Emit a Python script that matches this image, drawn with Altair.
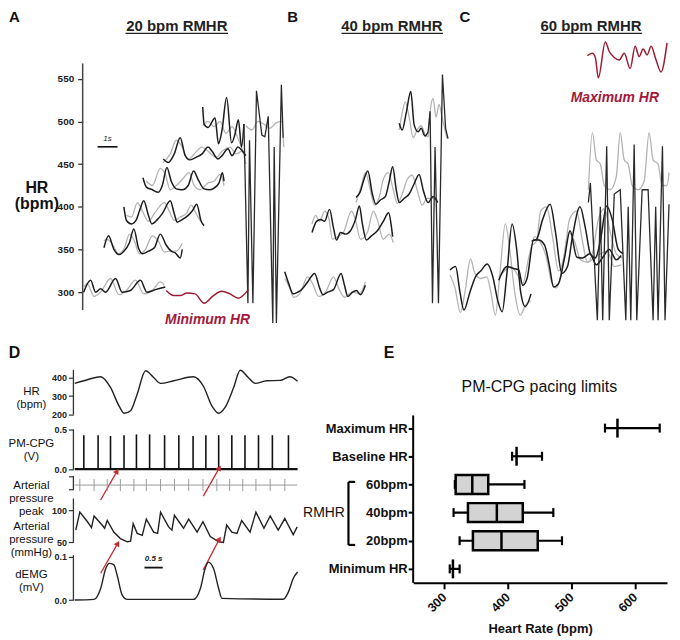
import altair as alt
import pandas as pd

FONT = "Liberation Sans"
INK = "#1c1c1c"
GREY = "#b3b3b3"
WINE = "#9d1b33"
ARROW_RED = "#c62a2f"
AXC = "#333333"

# ================= Panels A-C : HR traces (time in s, HR in bpm) =================
a1k_t = [0.05, 0.4, 0.65, 0.9, 1.15, 1.65, 1.98, 2.4, 2.9, 3.23, 3.65, 4.15]
a1k_v = [300, 314, 300, 304, 300, 316, 300, 302, 314, 300, 303, 306]
a1g_t = [0.05, 0.23, 0.57, 0.9, 1.4, 1.82, 2.2, 2.65, 3.07, 3.5, 3.9, 4.1]
a1g_v = [306, 310, 295, 300, 316, 297, 302, 314, 298, 302, 312, 308]

min_t = [4.2, 4.57, 4.9, 5.23, 5.65, 6.1, 6.57, 6.98, 7.4, 7.82, 8.32]
min_v = [302, 296, 296, 299, 298, 287, 296, 301, 298, 293, 303]

a2k_t = [1.07, 1.3, 1.57, 1.82, 2.07, 2.35, 2.57, 2.8, 3.0, 3.3, 3.6, 3.9, 4.2, 4.45, 4.65, 4.9, 5.0]
a2k_v = [352, 366, 350, 344, 348, 358, 374, 352, 345, 348, 352, 368, 355, 348, 346, 340, 350]
a2g_t = [1.07, 1.2, 1.5, 1.8, 2.1, 2.35, 2.6, 2.85, 3.15, 3.5, 3.8, 4.1, 4.4, 4.7, 5.0]
a2g_v = [360, 362, 356, 345, 352, 368, 360, 345, 350, 366, 360, 347, 348, 348, 357]

a3k_t = [2.07, 2.2, 2.45, 2.7, 2.85, 3.07, 3.3, 3.48, 3.75, 4.0, 4.4, 4.6, 4.75, 5.0, 5.3, 5.5, 5.73, 5.95, 6.1]
a3k_v = [400, 384, 380, 385, 395, 407, 390, 380, 385, 392, 407, 392, 382, 385, 390, 395, 403, 383, 378]
a3g_t = [2.2, 2.45, 2.75, 3.0, 3.3, 3.6, 4.1, 4.35, 4.6, 4.9, 5.2, 5.45, 5.7, 5.9]
a3g_v = [390, 388, 405, 395, 383, 392, 405, 395, 384, 388, 392, 402, 392, 384]

a4k_t = [3.03, 3.2, 3.5, 3.8, 4.0, 4.23, 4.45, 4.7, 5.0, 5.3, 5.57, 5.8, 6.1, 6.35, 6.6, 6.85, 7.02, 7.1]
a4k_v = [434, 423, 420, 417, 425, 446, 430, 421, 420, 425, 442, 432, 421, 420, 422, 428, 440, 430]
a4g_t = [3.2, 3.5, 3.9, 4.15, 4.4, 4.7, 5.0, 5.35, 5.6, 5.9, 6.3, 6.6, 6.9, 7.1]
a4g_v = [430, 425, 445, 438, 420, 425, 432, 440, 425, 420, 428, 430, 438, 425]

a5k_t = [4.05, 4.3, 4.6, 4.9, 5.15, 5.4, 5.7, 6.0, 6.3, 6.5, 6.8, 7.0, 7.3, 7.5, 7.8, 8.0, 8.2]
a5k_v = [456, 452, 462, 481, 460, 455, 458, 462, 470, 465, 456, 460, 468, 460, 470, 466, 460]
a5g_t = [4.05, 4.4, 4.7, 5.0, 5.3, 5.6, 6.0, 6.3, 6.7, 7.0, 7.4, 7.7, 8.0, 8.2]
a5g_v = [452, 462, 478, 470, 455, 462, 470, 465, 458, 465, 470, 462, 465, 450]

a6k_t = [6.03, 6.1, 6.3, 6.65, 6.82, 7.0, 7.23, 7.48, 7.65, 7.82, 7.98, 8.1]
a6k_v = [517, 497, 493, 504, 474, 490, 528, 475, 485, 502, 470, 497]
a6g_t = [6.03, 6.3, 6.6, 6.9, 7.2, 7.5, 7.8, 8.1]
a6g_v = [495, 500, 494, 500, 486, 494, 480, 462]

spkA_t = [8.1, 8.3, 8.38, 8.55, 8.73, 9.0, 9.15, 9.32, 9.55, 9.62, 9.73, 9.98, 10.07]
spkA_v = [497, 287, 478, 287, 536, 484, 482, 506, 264, 470, 264, 543, 481]
spkAg_t = [8.2, 8.5, 8.8, 9.1, 9.4, 9.7, 10.0, 10.1]
spkAg_v = [495, 490, 500, 497, 492, 498, 500, 470]

b1k_t = [10.15, 10.35, 10.57, 10.8, 10.95, 11.3, 11.65, 11.9, 12.07, 12.3, 12.6, 12.98, 13.15, 13.32, 13.55, 13.75, 13.95, 14.2]
b1k_v = [324, 310, 298, 300, 302, 312, 322, 305, 297, 300, 303, 322, 308, 295, 300, 302, 297, 308]
b1g_t = [10.15, 10.4, 10.6, 10.9, 11.3, 11.55, 11.85, 12.2, 12.6, 12.85, 13.15, 13.4, 13.6, 13.9, 14.2]
b1g_v = [316, 305, 294, 298, 318, 310, 295, 300, 318, 305, 294, 298, 300, 298, 312]

b2k_t = [11.52, 11.75, 11.95, 12.15, 12.4, 12.6, 12.75, 12.95, 13.2, 13.45, 13.7, 13.9, 14.05, 14.25, 14.5, 14.8, 15.1, 15.37, 15.5, 15.57]
b2k_v = [370, 383, 385, 383, 397, 375, 361, 370, 368, 372, 385, 401, 380, 361, 366, 372, 383, 393, 378, 365]
b2g_t = [11.52, 11.7, 11.9, 12.15, 12.35, 12.55, 12.8, 13.1, 13.5, 13.7, 13.95, 14.3, 14.6, 14.8, 15.1, 15.4, 15.6]
b2g_v = [380, 390, 383, 395, 388, 362, 365, 370, 395, 385, 362, 370, 395, 385, 362, 368, 358]

b3k_t = [13.73, 13.95, 14.1, 14.32, 14.55, 14.73, 14.95, 15.2, 15.4, 15.57, 15.75, 15.9, 16.15, 16.4, 16.65, 16.9, 17.1, 17.35, 17.6, 17.83]
b3k_v = [411, 418, 430, 442, 415, 403, 408, 412, 430, 447, 420, 405, 410, 415, 427, 438, 420, 405, 412, 405]
b3g_t = [13.73, 14.0, 14.2, 14.45, 14.65, 14.9, 15.1, 15.35, 15.6, 15.8, 16.05, 16.3, 16.55, 16.8, 17.05, 17.3, 17.6, 17.83]
b3g_v = [405, 425, 440, 420, 402, 412, 432, 440, 420, 404, 415, 432, 437, 420, 402, 410, 410, 408]

b4k_t = [15.9, 16.05, 16.25, 16.48, 16.65, 16.85, 17.0, 17.2, 17.35]
b4k_v = [498, 490, 510, 535, 496, 488, 492, 483, 488]
b4g_t = [15.9, 16.05, 16.2, 16.4, 16.6, 16.8, 17.0, 17.2, 17.35]
b4g_v = [490, 510, 523, 505, 481, 490, 495, 485, 482]

spkB_t = [17.35, 17.45, 17.57, 17.7, 17.87, 18.07, 18.23, 18.35]
spkB_v = [488, 512, 287, 470, 287, 555, 492, 480]
spkBg_t = [17.35, 17.5, 17.6, 17.75, 17.9, 18.05, 18.3]
spkBg_v = [482, 520, 527, 505, 520, 505, 480]

c1k_t = [18.45, 18.73, 18.95, 19.15, 19.45, 19.73, 20.0, 20.32, 20.6, 20.85, 21.07, 21.3, 21.57, 21.8, 22.0, 22.23, 22.52]
c1k_v = [326, 330, 300, 279, 300, 318, 325, 333, 318, 290, 277, 320, 380, 350, 300, 283, 298]
c1g_t = [18.45, 18.7, 18.97, 19.2, 19.48, 19.7, 20.0, 20.3, 20.5, 20.73, 20.95, 21.23, 21.45, 21.7, 21.98, 22.25, 22.5]
c1g_v = [320, 305, 276, 300, 339, 322, 316, 318, 300, 273, 320, 380, 350, 300, 273, 285, 290]

c2k_t = [20.9, 21.32, 21.6, 21.9, 22.1, 22.32, 22.65, 22.9, 23.2, 23.45, 23.65, 23.9, 24.2, 24.48, 24.82, 25.1, 25.48, 25.8, 26.1, 26.45, 26.8, 27.05]
c2k_v = [314, 330, 328, 326, 308, 316, 361, 361, 355, 330, 306, 310, 340, 372, 341, 340, 345, 332, 340, 350, 338, 343]
c2g_t = [20.9, 21.2, 21.5, 21.85, 22.1, 22.4, 22.7, 23.0, 23.3, 23.55, 23.8, 24.1, 24.4, 24.7, 25.0, 25.35, 25.7, 26.0, 26.35, 26.7, 27.05]
c2g_v = [318, 325, 330, 320, 310, 340, 365, 358, 340, 312, 305, 330, 370, 360, 338, 335, 340, 345, 348, 330, 332]

c3k_t = [22.55, 22.8, 23.1, 23.48, 23.75, 24.07, 24.35, 24.6, 24.98, 25.25, 25.5, 25.75, 26.0, 26.32, 26.6, 26.9, 27.15]
c3k_v = [360, 362, 385, 403, 370, 322, 330, 365, 400, 375, 345, 340, 360, 401, 385, 350, 345]
c3g_t = [22.55, 22.8, 23.0, 23.3, 23.6, 23.9, 24.2, 24.45, 24.8, 25.1, 25.35, 25.6, 25.9, 26.2, 26.5, 26.8, 27.1]
c3g_v = [355, 360, 395, 400, 365, 325, 345, 385, 395, 360, 335, 345, 385, 398, 370, 345, 340]

c4k_t = [25.4, 25.5, 25.85, 26.0, 26.12, 26.32, 26.45, 26.7, 27.0, 27.28, 27.4, 27.53, 27.7, 27.83, 28.1, 28.4, 28.65, 28.78, 28.9, 29.12, 29.25, 29.45]
c4k_v = [405, 428, 267, 400, 267, 471, 267, 415, 420, 267, 400, 267, 473, 267, 420, 420, 267, 400, 267, 471, 267, 403]
c4g_t = [25.4, 25.6, 25.8, 26.0, 26.2, 26.5, 26.8, 27.0, 27.2, 27.4, 27.6, 27.9, 28.2, 28.45, 28.65, 28.9, 29.1, 29.35, 29.45]
c4g_v = [420, 487, 455, 450, 425, 420, 435, 487, 455, 450, 425, 420, 430, 487, 455, 450, 425, 425, 440]

max_t = [25.35, 25.6, 25.75, 25.9, 26.25, 26.45, 26.7, 26.95, 27.2, 27.5, 27.75, 27.95, 28.15, 28.35, 28.55, 28.8, 29.05, 29.35]
max_v = [577, 580, 575, 551, 593, 582, 575, 572, 580, 562, 588, 576, 585, 578, 588, 572, 558, 592]

top_ticks = [300, 350, 400, 450, 500, 550]
top_axis_extent = [279, 568]

panel_letters = ["A", "B", "C"]
panel_letter_t = [-3.425, 10.55, 19.2]
panel_letter_v = [622.6, 622.6, 622.6]

panel_titles = ["20 bpm RMHR", "40 bpm RMHR", "60 bpm RMHR"]
panel_title_t = [4.73, 15.53, 25.53]
panel_title_v = [612.1, 612.1, 612.1]
underline_t = [2.15, 13.0, 23.0]
underline_t2 = [7.3, 18.1, 28.1]
underline_v = [603.3, 603.3, 603.3]

red_labels = ["Minimum HR", "Maximum HR"]
red_label_t = [6.275, 26.73]
red_label_v = [267.3, 526.9]

scale_bar_t = [0.75]
scale_bar_t2 = [1.75]
scale_bar_v = [470.3]
scale_lbl = ["1s"]
scale_lbl_t = [1.25]
scale_lbl_v = [479.5]

hr_lbl = ["HR\n(bpm)"]
hr_lbl_t = [-2.3]
hr_lbl_v = [421.9]

# ================= Panel D =================
hrd_t = [0, 0.25, 0.71, 0.98, 1.21, 1.36, 1.53, 1.71, 1.94, 2.16, 2.35, 2.71, 3.25, 3.53, 3.75, 3.94, 4.12, 4.35, 4.53, 4.75, 4.94, 5.25, 5.62, 5.89, 6.1]
hrd_v = [368, 382, 404, 346, 248, 207, 221, 310, 436, 400, 368, 382, 404, 350, 248, 207, 240, 346, 439, 400, 368, 382, 384, 404, 379]

pm_spike_t = [0.25, 0.64, 0.98, 1.35, 1.69, 2.05, 2.46, 2.85, 3.24, 3.59, 3.94, 4.3, 4.66, 5.03, 5.41, 5.85]
pm_spike_v = [0.43, 0.43, 0.42, 0.43, 0.44, 0.44, 0.43, 0.43, 0.42, 0.43, 0.43, 0.43, 0.43, 0.43, 0.43, 0.43]
pm_base_v = 0.004

ap_peak_t = [0.14, 0.53, 0.89, 1.25, 1.62, 1.96, 2.35, 2.73, 3.12, 3.51, 3.89, 4.24, 4.6, 4.96, 5.35, 5.75]

ap_t = [0.03, 0.14, 0.35, 0.46, 0.53, 0.75, 0.82, 0.89, 1.07, 1.25, 1.44, 1.53, 1.6, 1.71, 1.85, 1.96, 2.16, 2.27, 2.35, 2.57,
        2.66, 2.73, 2.98, 3.12, 3.35, 3.51, 3.71, 3.94, 4.07, 4.16, 4.3, 4.44, 4.57, 4.8, 4.96, 5.18, 5.35, 5.57, 5.75, 5.98, 6.09]
ap_v = [69, 97, 82, 73, 91, 77, 72, 84, 66, 56, 51, 52, 79, 64, 61, 86, 66, 64, 97, 74,
        69, 92, 72, 86, 66, 82, 59, 51, 50, 77, 66, 64, 84, 66, 97, 72, 91, 69, 87, 62, 74]

demg_t = [0, 0.53, 0.71, 0.85, 0.94, 1.07, 1.16, 1.3, 1.44, 3.25, 3.44, 3.57, 3.66, 3.8, 3.94, 4.03, 5.71, 5.85, 5.98, 6.1]
demg_v = [0, 0.0015, 0.027, 0.073, 0.085, 0.082, 0.058, 0.0115, 0.0015, 0.0015, 0.027, 0.073, 0.088, 0.073, 0.027, 0.004, 0.002, 0.019, 0.05, 0.065]

arrow_pm_t = [0.71, 3.52]
arrow_pm_t2 = [1.16, 3.96]
arrow_pm_v = [-0.384, -0.334]
arrow_pm_v2 = [-0.021, 0.02]
arrow_ap_t = [0.71, 3.52]
arrow_ap_t2 = [1.18, 3.96]
arrow_ap_v = [2.2, 7.4]
arrow_ap_v2 = [48.5, 55.2]

d_axis_t = -0.035      # time at which panel D's vertical axes stand
d_t_end = 6.1

# ================= Panel E =================
e_cats = ["Maximum HR", "Baseline HR", "60bpm", "40bpm", "20bpm", "Minimum HR"]
e_idx = [5, 4, 3, 2, 1, 0]
e_lo = [553, 407, 317, 315, 324.5, 309]
e_med = [572.6, 414, 344.4, 383, 390.3, 314]
e_hi = [639, 454, 426.4, 471.8, 485.4, 324.5]
box_idx = [3, 2, 1]
box_q1 = [318.3, 337.6, 345.4]
box_q3 = [369.5, 423.8, 447.3]
e_axis_extent = [-0.495, 5.45]

# ---------------------------------------------------------------------------
def trace_frame(rows):
    return pd.concat([pd.DataFrame({"t": t, "v": v, "trace": n}) for n, t, v in rows], ignore_index=True)

grey_df = trace_frame([("a1", a1g_t, a1g_v), ("a2", a2g_t, a2g_v), ("a3", a3g_t, a3g_v), ("a4", a4g_t, a4g_v),
                       ("a5", a5g_t, a5g_v), ("a6", a6g_t, a6g_v), ("sa", spkAg_t, spkAg_v),
                       ("b1", b1g_t, b1g_v), ("b2", b2g_t, b2g_v), ("b3", b3g_t, b3g_v), ("b4", b4g_t, b4g_v),
                       ("sb", spkBg_t, spkBg_v), ("c1", c1g_t, c1g_v), ("c2", c2g_t, c2g_v), ("c3", c3g_t, c3g_v),
                       ("c4", c4g_t, c4g_v)])
black_df = trace_frame([("a1", a1k_t, a1k_v), ("a2", a2k_t, a2k_v), ("a3", a3k_t, a3k_v), ("a4", a4k_t, a4k_v),
                        ("a5", a5k_t, a5k_v), ("a6", a6k_t, a6k_v), ("b1", b1k_t, b1k_v), ("b2", b2k_t, b2k_v),
                        ("b3", b3k_t, b3k_v), ("b4", b4k_t, b4k_v), ("c1", c1k_t, c1k_v), ("c2", c2k_t, c2k_v),
                        ("c3", c3k_t, c3k_v)])
spike_df = trace_frame([("sa", spkA_t, spkA_v), ("sb", spkB_t, spkB_v), ("c4", c4k_t, c4k_v)])
red_df = trace_frame([("min", min_t, min_v), ("max", max_t, max_v)])

TX = alt.X("t:Q", scale=alt.Scale(domain=[0, 29.5], nice=False, zero=False, padding=0), axis=None)
TY = alt.Y("v:Q", scale=alt.Scale(domain=[255.7, 631.3], nice=False, zero=False, padding=0),
           axis=alt.Axis(values=top_ticks, domain=False, grid=False, tickSize=5, tickColor=AXC, tickWidth=1.3,
                         labelFont=FONT, labelFontSize=10, labelFontWeight="bold", labelColor="#222",
                         labelPadding=4, title=None))

top_layers = [
    alt.Chart(pd.DataFrame({"t": [0], "v": [top_axis_extent[0]], "v2": [top_axis_extent[1]]}))
    .mark_rule(color="#444", strokeWidth=1.5).encode(x=TX, y=TY, y2="v2:Q"),
    alt.Chart(grey_df).mark_line(color=GREY, strokeWidth=1.3, interpolate="monotone").encode(x=TX, y=TY, detail="trace:N"),
    alt.Chart(black_df).mark_line(color=INK, strokeWidth=1.5, interpolate="monotone").encode(x=TX, y=TY, detail="trace:N"),
    alt.Chart(spike_df).mark_line(color="#2a2a2a", strokeWidth=1.3).encode(x=TX, y=TY, detail="trace:N"),
    alt.Chart(red_df).mark_line(color=WINE, strokeWidth=1.5, interpolate="monotone").encode(x=TX, y=TY, detail="trace:N"),
    alt.Chart(pd.DataFrame({"t": panel_letter_t, "v": panel_letter_v, "label": panel_letters}))
    .mark_text(font=FONT, fontSize=15, fontWeight="bold", color="#111", align="center", baseline="middle")
    .encode(x=TX, y=TY, text="label:N"),
    alt.Chart(pd.DataFrame({"t": panel_title_t, "v": panel_title_v, "label": panel_titles}))
    .mark_text(font=FONT, fontSize=15, fontWeight="bold", color="#222", align="center", baseline="middle")
    .encode(x=TX, y=TY, text="label:N"),
    alt.Chart(pd.DataFrame({"t": underline_t, "t2": underline_t2, "v": underline_v}))
    .mark_rule(color="#222", strokeWidth=1.3).encode(x=TX, x2="t2:Q", y=TY),
    alt.Chart(pd.DataFrame({"t": red_label_t, "v": red_label_v, "label": red_labels}))
    .mark_text(font=FONT, fontSize=14, fontWeight="bold", fontStyle="italic", color="#a3193a",
               align="center", baseline="middle").encode(x=TX, y=TY, text="label:N"),
    alt.Chart(pd.DataFrame({"t": scale_bar_t, "t2": scale_bar_t2, "v": scale_bar_v}))
    .mark_rule(color="#111", strokeWidth=1.6).encode(x=TX, x2="t2:Q", y=TY),
    alt.Chart(pd.DataFrame({"t": scale_lbl_t, "v": scale_lbl_v, "label": scale_lbl}))
    .mark_text(font=FONT, fontSize=8, fontStyle="italic", color="#222", align="center", baseline="middle")
    .encode(x=TX, y=TY, text="label:N"),
    alt.Chart(pd.DataFrame({"t": hr_lbl_t, "v": hr_lbl_v, "label": hr_lbl}))
    .mark_text(font=FONT, fontSize=16, fontWeight="bold", color="#111", align="center", baseline="middle",
               lineBreak="\n", lineHeight=16).encode(x=TX, y=TY, text="label:N"),
]
top_chart = alt.layer(*top_layers).properties(width=590, height=322)

# ---------------- Panel D strips ----------------
# plot area starts where panel A's starts; the axes are pushed left by an offset
DX = alt.X("t:Q", scale=alt.Scale(domain=[0.218, 6.16], nice=False, zero=False, padding=0), axis=None)
D_W = 218.1
D_OFF = 9.3


def DY(domain, values, title, title_y, fmt=None, labels=True):
    kw = dict(values=values, domain=False, grid=False, offset=D_OFF, tickSize=5, tickColor=AXC, tickWidth=1.2,
              labelFont=FONT, labelFontSize=9, labelFontWeight="bold", labelColor="#222", labelPadding=2,
              title=title, titleAngle=0, titleAlign="center", titleBaseline="middle",
              titleX=-42.7, titleY=title_y, titleFont=FONT, titleFontSize=11.5, titleFontWeight="normal",
              titleLineHeight=13, titleColor="#111")
    if fmt:
        kw["format"] = fmt
    if not labels:
        kw["labels"] = False
    return alt.Y("v:Q", scale=alt.Scale(domain=domain, nice=False, zero=False, padding=0), axis=alt.Axis(**kw))


def axis_rule(y, lo, hi):
    return alt.Chart(pd.DataFrame({"t": [d_axis_t], "v": [lo], "v2": [hi]})).mark_rule(
        color=AXC, strokeWidth=1.3).encode(x=DX, y=y, y2="v2:Q")


def arrows(y, t, t2, v, v2):
    shaft = alt.Chart(pd.DataFrame({"t": t, "t2": t2, "v": v, "v2": v2})).mark_rule(
        color=ARROW_RED, strokeWidth=1.3).encode(x=DX, x2="t2:Q", y=y, y2="v2:Q")
    head = alt.Chart(pd.DataFrame({"t": t2, "v": v2})).mark_point(
        shape="triangle-up", filled=True, size=40, color=ARROW_RED, angle=30, opacity=1).encode(x=DX, y=y)
    return [shaft, head]


hr_y = DY([161.4, 462.7], [200, 300, 400], ["HR", "(bpm)"], 25.8, "d")
hr_strip = alt.layer(
    axis_rule(hr_y, 200, 441),
    alt.Chart(pd.DataFrame({"t": hrd_t, "v": hrd_v})).mark_line(color="#222", strokeWidth=1.4, interpolate="monotone")
    .encode(x=DX, y=hr_y),
    alt.Chart(pd.DataFrame({"t": [-1.65], "v": [532.4], "label": ["D"]}))
    .mark_text(font=FONT, fontSize=16, fontWeight="bold", color="#111", align="center", baseline="middle")
    .encode(x=DX, y=hr_y, text="label:N"),
).properties(width=D_W, height=56.2)

pm_y = DY([-0.036, 0.589], [0, 0.5], ["PM-CPG", "(V)"], 21.3, ".1f")
pm_strip = alt.layer(
    axis_rule(pm_y, 0, 0.5),
    alt.Chart(pd.DataFrame({"t": [0], "t2": [d_t_end], "v": [pm_base_v]})).mark_rule(color="#111", strokeWidth=2.2)
    .encode(x=DX, x2="t2:Q", y=pm_y),
    alt.Chart(pd.DataFrame({"t": pm_spike_t, "v": pm_spike_v, "v2": [0] * len(pm_spike_t)}))
    .mark_rule(color="#111", strokeWidth=1.6).encode(x=DX, y=pm_y, y2="v2:Q"),
    *arrows(pm_y, arrow_pm_t, arrow_pm_t2, arrow_pm_v, arrow_pm_v2),
).properties(width=D_W, height=50)

pk_y = DY([-0.128, 1.156], [0.2, 0.95], ["Arterial", "pressure", "peak"], 13.1, labels=False)
pk_strip = alt.layer(
    axis_rule(pk_y, 0.2, 0.95),
    alt.Chart(pd.DataFrame({"t": [0], "t2": [6.09], "v": [0.444]})).mark_rule(color="#9a9a9a", strokeWidth=1)
    .encode(x=DX, x2="t2:Q", y=pk_y),
    alt.Chart(pd.DataFrame({"t": ap_peak_t, "v": [0.11] * len(ap_peak_t), "v2": [0.78] * len(ap_peak_t)}))
    .mark_rule(color="#9a9a9a", strokeWidth=1).encode(x=DX, y=pk_y, y2="v2:Q"),
).properties(width=D_W, height=23.1)

ap_y = DY([40.3, 121.6], [50, 100], ["Arterial", "pressure", "(mmHg)"], 30.2, "d")
ap_strip = alt.layer(
    axis_rule(ap_y, 50, 118),
    alt.Chart(pd.DataFrame({"t": ap_t, "v": ap_v})).mark_line(color="#222", strokeWidth=1.4).encode(x=DX, y=ap_y),
    *arrows(ap_y, arrow_ap_t, arrow_ap_t2, arrow_ap_v, arrow_ap_v2),
).properties(width=D_W, height=52.7)

em_y = DY([-0.0085, 0.1185], [0, 0.1], ["dEMG", "(mV)"], 26, ".1f")
em_strip = alt.layer(
    axis_rule(em_y, 0, 0.104),
    alt.Chart(pd.DataFrame({"t": demg_t, "v": demg_v})).mark_line(color="#222", strokeWidth=1.4, interpolate="monotone")
    .encode(x=DX, y=em_y),
    alt.Chart(pd.DataFrame({"t": [1.91], "t2": [2.41], "v": [0.0753]})).mark_rule(color="#111", strokeWidth=1.8)
    .encode(x=DX, x2="t2:Q", y=em_y),
    alt.Chart(pd.DataFrame({"t": [2.16], "v": [0.0953], "label": ["0.5 s"]}))
    .mark_text(font=FONT, fontSize=8, fontStyle="italic", fontWeight="bold", color="#222", align="center",
               baseline="middle").encode(x=DX, y=em_y, text="label:N"),
).properties(width=D_W, height=55)

panel_d = alt.vconcat(hr_strip, pm_strip, pk_strip, ap_strip, em_strip, spacing=0, bounds="flush")

# ---------------- Panel E ----------------
names_by_idx = [e_cats[e_idx.index(i)] for i in range(len(e_cats))]
label_expr = "[" + ",".join("'" + n + "'" for n in names_by_idx) + "][datum.value]"

EX_SCALE = alt.Scale(domain=[251.5, 650.5], nice=False, zero=False, padding=0)
EX_AXIS = alt.Axis(values=[300, 400, 500, 600], grid=False, domainColor="black", domainWidth=2, tickColor="black",
                   tickWidth=2, tickSize=6, labelAngle=-45, labelAlign="right", labelBaseline="middle",
                   labelFont=FONT, labelFontSize=12.5, labelFontWeight="bold", labelColor="#111", labelPadding=6,
                   title="Heart Rate (bpm)", titleFont=FONT, titleFontSize=13, titleFontWeight="bold",
                   titleColor="#111", titlePadding=9)
# plot area top is level with panel D's top; the axis line itself is drawn only over the categories
EY_SCALE = alt.Scale(domain=[-0.495, 7.213], nice=False, zero=False, padding=0)
EY_AXIS = alt.Axis(values=list(range(6)), labelExpr=label_expr, grid=False, domain=False,
                   tickColor="black", tickWidth=2, tickSize=5, labelFont=FONT, labelFontSize=13,
                   labelFontWeight="bold", labelColor="#111", labelPadding=1, title=None)


def EX(f):
    return alt.X(f + ":Q", scale=EX_SCALE, axis=EX_AXIS)


def EY(f):
    return alt.Y(f + ":Q", scale=EY_SCALE, axis=EY_AXIS)


e_df = pd.DataFrame({"cat": e_cats, "idx": e_idx, "lo": e_lo, "med": e_med, "hi": e_hi})
box_df = pd.DataFrame({"idx": box_idx, "q1": box_q1, "q3": box_q3})

e_layers = [
    alt.Chart(pd.DataFrame({"x": [EX_SCALE.domain[0]], "ya": [e_axis_extent[0]], "yb": [e_axis_extent[1]]}))
    .mark_rule(color="black", strokeWidth=2).encode(x=EX("x"), y=EY("ya"), y2="yb:Q"),
    alt.Chart(e_df).mark_rule(color="black", strokeWidth=2.2).encode(x=EX("lo"), x2="hi:Q", y=EY("idx")),
    alt.Chart(e_df).mark_tick(orient="vertical", size=9, thickness=2.2, color="black", opacity=1)
    .encode(x=EX("lo"), y=EY("idx")),
    alt.Chart(e_df).mark_tick(orient="vertical", size=9, thickness=2.2, color="black", opacity=1)
    .encode(x=EX("hi"), y=EY("idx")),
    alt.Chart(box_df).mark_bar(orient="horizontal", size=19, fill="#d3d3d3", stroke="black", strokeWidth=2.5)
    .encode(x=EX("q1"), x2="q3:Q", y=EY("idx")),
    alt.Chart(e_df).mark_tick(orient="vertical", size=19, thickness=2.5, color="black", opacity=1)
    .encode(x=EX("med"), y=EY("idx")),
    alt.Chart(pd.DataFrame({"x": [149.8], "ya": [0.85], "yb": [3.09]})).mark_rule(color="black", strokeWidth=2.2)
    .encode(x=EX("x"), y=EY("ya"), y2="yb:Q"),
    alt.Chart(pd.DataFrame({"x": [149.8, 149.8], "x2": [160.3, 160.3], "ya": [3.09, 0.85]}))
    .mark_rule(color="black", strokeWidth=2.2).encode(x=EX("x"), x2="x2:Q", y=EY("ya")),
    alt.Chart(pd.DataFrame({"x": [111.3], "ya": [2.0], "label": ["RMHR"]}))
    .mark_text(font=FONT, fontSize=14, color="#111", align="center", baseline="middle")
    .encode(x=EX("x"), y=EY("ya"), text="label:N"),
    alt.Chart(pd.DataFrame({"x": [213.5], "ya": [7.67], "label": ["E"]}))
    .mark_text(font=FONT, fontSize=16, fontWeight="bold", color="#111", align="center", baseline="middle")
    .encode(x=EX("x"), y=EY("ya"), text="label:N"),
    alt.Chart(pd.DataFrame({"x": [449.8], "ya": [6.45], "label": ["PM-CPG pacing limits"]}))
    .mark_text(font=FONT, fontSize=16, color="#111", align="center", baseline="middle")
    .encode(x=EX("x"), y=EY("ya"), text="label:N"),
]
panel_e = alt.layer(*e_layers).properties(width=255, height=218)

bottom = alt.hconcat(panel_d, panel_e, spacing=2)

chart = alt.vconcat(top_chart, bottom, spacing=14, padding=0) \
    .configure(font=FONT).configure_view(stroke=None)

chart.save("out.html", embed_options={"renderer": "svg", "actions": False})
